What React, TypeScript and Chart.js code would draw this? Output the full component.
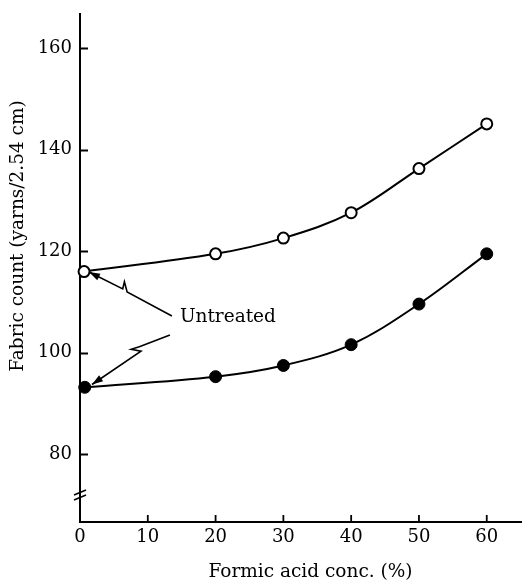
import { useEffect, useRef } from "react";
import { Chart, registerables } from "chart.js";

Chart.register(...registerables);

// ---- data ----
const xTicks = [0, 10, 20, 30, 40, 50, 60];
const yTicks = [80, 100, 120, 140, 160];
const openX = [0.6, 20, 30, 40, 50, 60];
const openY = [116.0, 119.5, 122.6, 127.6, 136.3, 145.1];
const filledX = [0.7, 20, 30, 40, 50, 60];
const filledY = [93.2, 95.3, 97.5, 101.6, 109.6, 119.5];
const annotationLabel = "Untreated";
const xTitle = "Formic acid conc. (%)";
const yTitle = "Fabric count (yarns/2.54 cm)";

const FONT = '"DejaVu Serif", serif';

// annotation leader paths in data units (tip first for arrows)
const upperArrow = [
  [1.33, 115.92],
  [6.3, 112.6],
  [6.55, 114.0],
  [6.95, 112.0],
  [13.56, 107.25],
];
const lowerArrow = [
  [1.77, 93.75],
  [9.0, 100.3],
  [7.55, 100.7],
  [8.75, 101.2],
  [13.27, 103.51],
];
const labelPos = [14.74, 106.07];

const axesPlugin = {
  id: "axesPlugin",
  beforeDatasetsDraw(chart: any) {
    const { ctx, chartArea: a, scales } = chart;
    const x = scales.x;
    const y = scales.y;
    ctx.save();
    ctx.strokeStyle = "#000";
    ctx.lineCap = "butt";
    ctx.lineWidth = 2;
    ctx.beginPath();
    ctx.moveTo(a.left, a.top);
    ctx.lineTo(a.left, a.bottom);
    ctx.lineTo(a.right, a.bottom);
    ctx.stroke();
    // y ticks inward
    ctx.lineWidth = 2;
    yTicks.forEach((v) => {
      const py = Math.round(y.getPixelForValue(v)) + 0.5;
      ctx.beginPath();
      ctx.moveTo(a.left, py);
      ctx.lineTo(a.left + 8, py);
      ctx.stroke();
    });
    // x ticks inward
    ctx.lineWidth = 1.8;
    xTicks.forEach((v) => {
      if (v === 0) return;
      const px = x.getPixelForValue(v);
      ctx.beginPath();
      ctx.moveTo(px, a.bottom);
      ctx.lineTo(px, a.bottom - 7);
      ctx.stroke();
    });
    // axis break marks
    const pb = y.getPixelForValue(72);
    ctx.lineWidth = 1.6;
    [-2.5, 2.5].forEach((d) => {
      ctx.beginPath();
      ctx.moveTo(a.left - 6, pb + d + 2.5);
      ctx.lineTo(a.left + 6, pb + d - 2.5);
      ctx.stroke();
    });
    ctx.restore();
  },
  afterDraw(chart: any) {
    const { ctx, scales } = chart;
    const x = scales.x;
    const y = scales.y;
    const P = (p: number[]) => [x.getPixelForValue(p[0]), y.getPixelForValue(p[1])];
    ctx.save();
    ctx.strokeStyle = "#000";
    ctx.fillStyle = "#000";
    ctx.lineWidth = 1.6;
    ctx.lineJoin = "miter";
    [upperArrow, lowerArrow].forEach((path) => {
      const pts = path.map(P);
      ctx.beginPath();
      ctx.moveTo(pts[0][0], pts[0][1]);
      for (let i = 1; i < pts.length; i++) ctx.lineTo(pts[i][0], pts[i][1]);
      ctx.stroke();
      // arrowhead
      const [tx, ty] = pts[0];
      const [fx, fy] = pts[1];
      const dx = fx - tx;
      const dy = fy - ty;
      const L = Math.hypot(dx, dy);
      const ux = dx / L;
      const uy = dy / L;
      const len = 11;
      const half = 3.6;
      ctx.beginPath();
      ctx.moveTo(tx, ty);
      ctx.lineTo(tx + ux * len - uy * half, ty + uy * len + ux * half);
      ctx.lineTo(tx + ux * len + uy * half, ty + uy * len - ux * half);
      ctx.closePath();
      ctx.fill();
    });
    // label
    ctx.font = `18.5px ${FONT}`;
    ctx.textAlign = "left";
    ctx.textBaseline = "alphabetic";
    const [lx, ly] = P(labelPos);
    ctx.fillText(annotationLabel, lx, ly);
    // axis titles
    ctx.textAlign = "center";
    ctx.fillText(xTitle, 310.5, 577);
    ctx.save();
    ctx.translate(23, 236);
    ctx.rotate(-Math.PI / 2);
    ctx.fillText(yTitle, 0, 0);
    ctx.restore();
    ctx.restore();
  },
};

export default function App() {
  const ref = useRef<HTMLCanvasElement | null>(null);
  useEffect(() => {
    if (!ref.current) return;
    const chart = new Chart(ref.current, {
      type: "line",
      data: {
        datasets: [
          {
            data: openX.map((v, i) => ({ x: v, y: openY[i] })),
            borderColor: "#000",
            borderWidth: 2,
            backgroundColor: "#fff",
            pointBackgroundColor: "#fff",
            pointBorderColor: "#000",
            pointBorderWidth: 2,
            pointRadius: 5.5,
            tension: 0.35,
            fill: false,
            clip: false,
          },
          {
            data: filledX.map((v, i) => ({ x: v, y: filledY[i] })),
            borderColor: "#000",
            borderWidth: 2,
            backgroundColor: "#000",
            pointBackgroundColor: "#000",
            pointBorderColor: "#000",
            pointBorderWidth: 1,
            pointRadius: 6,
            tension: 0.35,
            fill: false,
            clip: false,
          },
        ],
      },
      options: {
        responsive: false,
        animation: false,
        layout: { autoPadding: false, padding: { top: 13, right: 0, left: 0, bottom: 0 } },
        plugins: { legend: { display: false }, tooltip: { enabled: false } },
        scales: {
          x: {
            type: "linear",
            min: 0,
            max: 65.2,
            afterBuildTicks: (s: any) => {
              s.ticks = xTicks.map((v) => ({ value: v }));
            },
            afterFit: (s: any) => {
              s.height = 61;
              s.paddingLeft = 0;
              s.paddingRight = 0;
            },
            grid: { display: false, drawTicks: false },
            border: { display: false },
            ticks: {
              color: "#000",
              font: { family: FONT, size: 18 },
              padding: 5,
              maxRotation: 0,
              autoSkip: false,
            },
          },
          y: {
            type: "linear",
            min: 66.66,
            max: 166.95,
            afterBuildTicks: (s: any) => {
              s.ticks = yTicks.map((v) => ({ value: v }));
            },
            afterFit: (s: any) => {
              s.width = 80;
              s.paddingTop = 0;
              s.paddingBottom = 0;
            },
            grid: { display: false, drawTicks: false },
            border: { display: false },
            ticks: {
              color: "#000",
              font: { family: FONT, size: 18 },
              padding: 8,
              autoSkip: false,
            },
          },
        },
      },
      plugins: [axesPlugin],
    });
    return () => chart.destroy();
  }, []);
  return (
    <div style={{ position: "fixed", left: 0, top: 0, width: 522, height: 583, background: "#fff" }}>
      <canvas ref={ref} width={522} height={583} style={{ display: "block" }} />
    </div>
  );
}
